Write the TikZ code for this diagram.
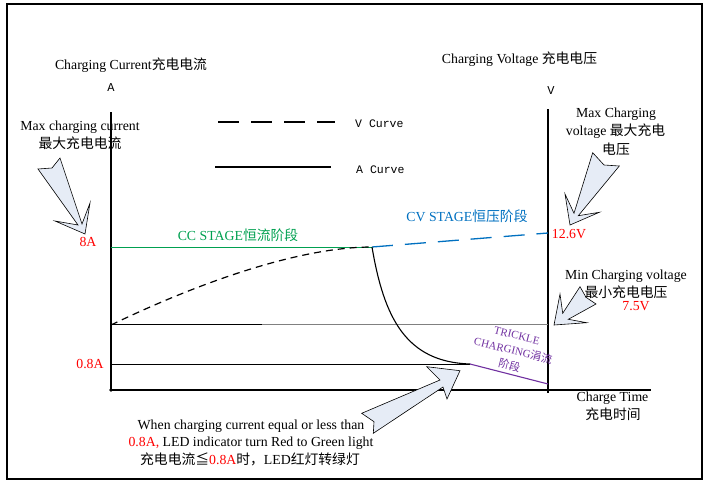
\documentclass[tikz,border=0pt]{standalone}
\usepackage{fontspec}
\setmainfont{Liberation Serif}
\newfontfamily\cjk{Noto Sans CJK SC}
\newfontfamily\monof{Liberation Mono}
\newcommand\zh[1]{{\cjk #1}}
\definecolor{ccgreen}{RGB}{0,160,80}
\definecolor{cvblue}{RGB}{0,112,192}
\definecolor{trpurple}{RGB}{112,48,160}
\definecolor{callfill}{RGB}{230,236,246}
\definecolor{midgray}{RGB}{128,128,128}
\begin{document}
\begin{tikzpicture}[x=1pt,y=-1pt,
  txt/.style={inner sep=0pt, anchor=base, font=\fontsize{13.8}{16}\selectfont},
  mono/.style={inner sep=0pt, anchor=base, font=\monof\fontsize{11.5}{14}\selectfont},
  axis/.style={line width=1.1pt, black},
  callout/.style={draw=black, line width=0.6pt, fill=callfill, line join=miter},
  vdash/.style={dash pattern=on 21pt off 12pt, line width=1.3pt}]
\useasboundingbox (0,0) rectangle (711,487);
\draw[line width=1.3pt] (7,4) rectangle (702,479);

% coordinates
\coordinate (O) at (111,390);
\coordinate (Ytop) at (111,112);
\coordinate (Xend) at (651,390);
\coordinate (Rtop) at (548,109);
\coordinate (Rbot) at (548,393);
\coordinate (cc0) at (111,247);
\coordinate (peak) at (372,247);
\coordinate (cv0) at (111,325);
\coordinate (cvend) at (548,233);
\coordinate (low) at (470,364);
\coordinate (tr) at (548,384);
\coordinate (l08) at (111,364);
\coordinate (g0) at (111,324);
\coordinate (gm) at (262,324);
\coordinate (g1) at (548,324);
\coordinate (leg1a) at (218,122);
\coordinate (leg1b) at (335,122);
\coordinate (leg2a) at (215,167);
\coordinate (leg2b) at (331,167);

% axes
\draw[axis] (Ytop) -- (O) -- (Xend);
\draw[axis] (Rtop) -- (Rbot);
\fill (O) circle (1.8);

% guide lines
\draw[line width=1pt] (g0) -- (gm);
\draw[line width=1pt, midgray] (gm) -- (g1);
\draw[line width=1pt] (l08) -- (low);
\draw[line width=1pt, ccgreen] (cc0) -- (peak);

% curves
\draw[line width=1.2pt, dash pattern=on 7pt off 5pt] (cv0) .. controls (200,282) and (300,247) .. (peak);
\draw[vdash, cvblue] (peak) -- (cvend);
\draw[line width=1.1pt] (peak) .. controls (384,318) and (406,362) .. (low);
\draw[line width=1.1pt, trpurple] (low) -- (tr);

% legend
\draw[vdash] (leg1a) -- (leg1b);
\draw[line width=1.2pt] (leg2a) -- (leg2b);
\node[mono, anchor=base west] (vcurve) at (355,127) {V Curve};
\node[mono, anchor=base west] (acurve) at (356,173) {A Curve};

% callouts
\draw[callout] (60,158) -- (52,168) -- (38,169) -- (78,225) -- (55,221) -- (85,234) -- (90,203) -- (82,224) -- cycle;
\draw[callout] (592.7,152.7) -- (604,165) -- (619.3,166) -- (578.3,215.7) -- (599.3,212.3) -- (570,225) -- (565,194) -- (574,213.3) -- cycle;
\draw[callout] (580,286.7) -- (586,297.3) -- (596,304) -- (568.3,319.3) -- (586.7,322.7) -- (554,325) -- (560,294) -- (562.7,313.3) -- cycle;
\draw[callout] (361.7,413.3) -- (374,421.7) -- (373.3,433.3) -- (443,387) -- (447,399) -- (460,370.7) -- (426.7,366.7) -- (440,380) -- cycle;

% texts
\node[txt] (curT) at (131,69) {Charging Current\zh{充电电流}};
\node[mono, font=\monof\fontsize{12}{14}\selectfont] (alab) at (111,91) {A};
\node[txt] (maxc1) at (80,130) {Max charging current};
\node[txt] (maxc2) at (80,148) {\zh{最大充电电流}};
\node[txt, red] (eightA) at (88,246) {8A};
\node[txt, red] (ptA) at (90,368.5) {0.8A};
\node[txt, ccgreen] (ccT) at (238,240.5) {CC STAGE\zh{恒流阶段}};
\node[txt, cvblue] (cvT) at (467,221.5) {CV STAGE\zh{恒压阶段}};
\node[txt, red] (v126) at (569,238.5) {12.6V};
\node[mono, font=\monof\fontsize{12}{14}\selectfont] (vlab) at (551,94) {V};
\node[txt] (voltT) at (519.5,63.5) {Charging Voltage \zh{充电电压}};
\node[txt] (maxv1) at (616,117.5) {Max Charging};
\node[txt] (maxv2) at (615.5,135.5) {voltage \zh{最大充电}};
\node[txt] (maxv3) at (616,154) {\zh{电压}};
\node[txt] (min1) at (626,279.5) {Min Charging voltage};
\node[txt] (min2) at (626,297.5) {\zh{最小充电电压}};
\node[txt, red] (min3) at (636,310.5) {7.5V};
\node[inner sep=0pt, anchor=center, align=center, rotate=-14, trpurple, font=\fontsize{11}{15.5}\selectfont] (trT) at (513,351) {TRICKLE\\CHARGING\zh{涓流}\\\zh{阶段}};
\node[txt] (time1) at (612.5,401.5) {Charge Time};
\node[txt] (time2) at (613,419) {\zh{充电时间}};
\node[txt] (b1) at (251,429.5) {When charging current equal or less than};
\node[txt] (b2) at (251,446.5) {\textcolor{red}{0.8A,} LED indicator turn Red to Green light};
\node[txt] (b3) at (250,464) {\zh{充电电流≦}\textcolor{red}{0.8A}\zh{时，}LED\zh{红灯转绿灯}};
\end{tikzpicture}
\end{document}
